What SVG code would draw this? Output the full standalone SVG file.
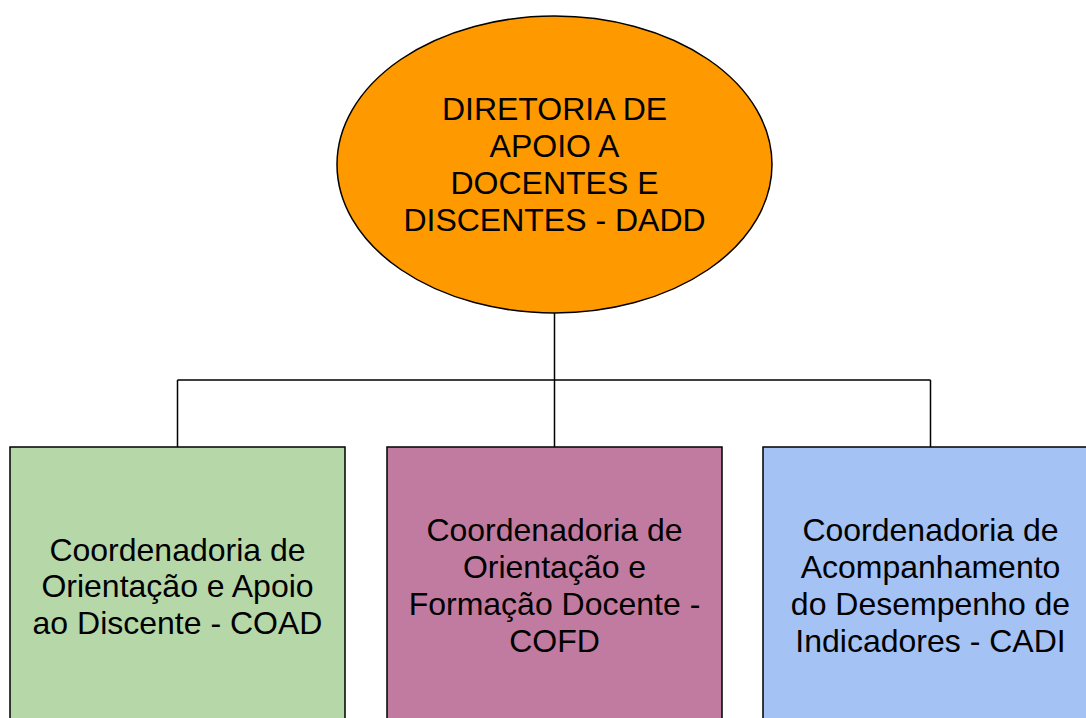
<svg xmlns="http://www.w3.org/2000/svg" width="1086" height="718" viewBox="0 0 1086 718">
<style>
.t{font-family:"Liberation Sans",Arial,sans-serif;font-size:32px;fill:#000;text-anchor:middle}
.n{stroke:#000;stroke-width:1.5}
.c{fill:none;stroke:#000;stroke-width:1.5}
</style>
<rect width="1086" height="718" fill="#fff"/>
<g id="connectors">
<path class="c" d="M554.5 313V447M177.5 380H930.5M177.5 380V447M930.5 380V447"/>
</g>
<g id="dadd">
<ellipse class="n" cx="554.5" cy="164.5" rx="217.5" ry="148.5" fill="#FF9900"/>
<text class="t" x="554.5" y="120">DIRETORIA DE</text>
<text class="t" x="554.5" y="157">APOIO A</text>
<text class="t" x="554.5" y="194">DOCENTES E</text>
<text class="t" x="554.5" y="231">DISCENTES - DADD</text>
</g>
<g id="coad">
<rect class="n" x="10" y="447" width="335" height="290" fill="#B6D7A8"/>
<text class="t" x="177.5" y="561">Coordenadoria de</text>
<text class="t" x="177.5" y="597">Orientação e Apoio</text>
<text class="t" x="177.5" y="634">ao Discente - COAD</text>
</g>
<g id="cofd">
<rect class="n" x="387" y="447" width="335" height="290" fill="#C27BA0"/>
<text class="t" x="554.5" y="541">Coordenadoria de</text>
<text class="t" x="554.5" y="578">Orientação e</text>
<text class="t" x="554.5" y="615">Formação Docente -</text>
<text class="t" x="554.5" y="652">COFD</text>
</g>
<g id="cadi">
<rect class="n" x="763" y="447" width="335" height="290" fill="#A4C2F4"/>
<text class="t" x="930.5" y="541">Coordenadoria de</text>
<text class="t" x="930.5" y="578">Acompanhamento</text>
<text class="t" x="930.5" y="615">do Desempenho de</text>
<text class="t" x="930.5" y="652">Indicadores - CADI</text>
</g>
</svg>
